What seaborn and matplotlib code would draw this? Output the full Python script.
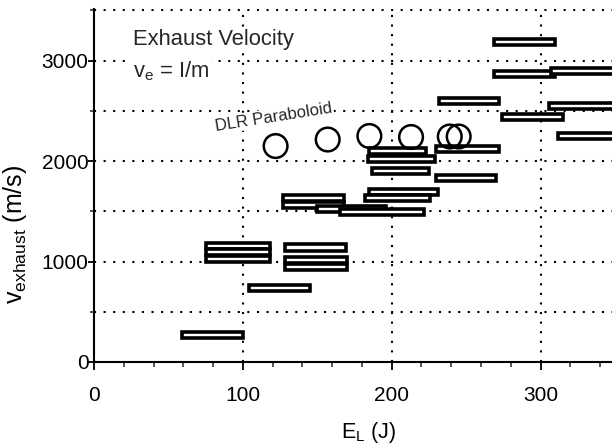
import matplotlib
matplotlib.use("Agg")
import matplotlib.pyplot as plt
from matplotlib.ticker import MultipleLocator, FixedLocator
import seaborn as sns
import pandas as pd

# ---- data ----
bar_lo = [59, 75, 75, 75, 104, 128, 128, 128, 127, 127, 150, 165, 185, 182,
          185, 184, 187, 230, 230, 232, 269, 269, 307, 274, 306, 312]
bar_hi = [100, 118, 118, 118, 145, 169, 170, 170, 168, 168, 196, 222, 231, 226,
          223, 229, 225, 272, 270, 272, 310, 310, 355, 315, 355, 355]
bar_v = [265, 1155, 1095, 1030, 740, 1140, 1015, 950, 1630, 1560, 1525, 1490,
         1690, 1630, 2100, 2025, 1905, 2120, 1835, 2595, 3185, 2870, 2900,
         2440, 2550, 2250]

dlr_E = [122, 157, 185, 213, 239, 245]
dlr_v = [2150, 2215, 2250, 2240, 2245, 2245]

x_ticks = [0, 100, 200, 300]
y_ticks = [0, 1000, 2000, 3000]

sns.set_theme(style="ticks")
plt.rcParams["font.family"] = ["Liberation Sans", "DejaVu Sans"]
plt.rcParams["mathtext.fontset"] = "custom"
plt.rcParams["mathtext.rm"] = "Liberation Sans"
plt.rcParams["mathtext.it"] = "Liberation Sans"

fig = plt.figure(figsize=(6.12, 4.48), dpi=100)
ax = fig.add_axes([0.1536, 0.192, 0.8464, 0.788])

bars = pd.DataFrame({"lo": bar_lo, "hi": bar_hi, "v": bar_v})
ax.barh(bars["v"], bars["hi"] - bars["lo"], left=bars["lo"], height=60,
        facecolor="white", edgecolor="black", linewidth=2.6, zorder=3)

dlr = pd.DataFrame({"E": dlr_E, "v": dlr_v})
sns.scatterplot(data=dlr, x="E", y="v", ax=ax, marker="o", s=290,
                facecolor="none", edgecolor="black", linewidth=1.8, zorder=4)

ax.set_xlim(0, 348)
ax.set_ylim(0, 3515)
ax.xaxis.set_major_locator(FixedLocator(x_ticks))
ax.xaxis.set_minor_locator(MultipleLocator(20))
ax.yaxis.set_major_locator(FixedLocator(y_ticks))
ax.yaxis.set_minor_locator(FixedLocator([500, 1500, 2500, 3500]))

grid_kw = dict(color="black", linestyle=(0, (1, 3.6)), linewidth=1.5)
ax.grid(axis="x", which="major", **grid_kw)
ax.grid(axis="y", which="both", **grid_kw)
ax.set_axisbelow(True)

for s in ["top", "right"]:
    ax.spines[s].set_visible(False)
for s in ["left", "bottom"]:
    ax.spines[s].set_linewidth(1.5)
    ax.spines[s].set_color("black")

ax.tick_params(axis="x", which="major", length=6, width=1.3, direction="out",
               labelsize=15, pad=11, colors="black")
ax.tick_params(axis="x", which="minor", length=3.5, width=1.1, direction="out")
ax.tick_params(axis="y", which="major", length=4, width=1.3, direction="out",
               labelsize=15, pad=0, colors="black")
ax.tick_params(axis="y", which="minor", length=3, width=1.1, direction="out")

ax.set_xlabel("E$_{\\rm L}$ (J)", fontsize=15.5, color="black")
ax.set_ylabel("v$_{\\rm exhaust}$ (m/s)", fontsize=18, color="black")
ax.xaxis.set_label_coords(0.53, -0.165)
ax.yaxis.set_label_coords(-0.125, 0.36)

txt_bbox = dict(facecolor="white", edgecolor="none", pad=1)
ax.text(0.075, 0.898, "Exhaust Velocity", transform=ax.transAxes,
        fontsize=15.8, ha="left", va="baseline", bbox=txt_bbox, zorder=5)
ax.text(0.075, 0.805, "v$_{\\rm e}$ = I/m", transform=ax.transAxes,
        fontsize=15.8, ha="left", va="baseline", bbox=txt_bbox, zorder=5)
ax.text(0.235, 0.655, "DLR Paraboloid", transform=ax.transAxes,
        fontsize=12, ha="left", va="baseline", rotation=9,
        rotation_mode="anchor", bbox=txt_bbox, zorder=5)

fig.savefig("out.png", dpi=100)
